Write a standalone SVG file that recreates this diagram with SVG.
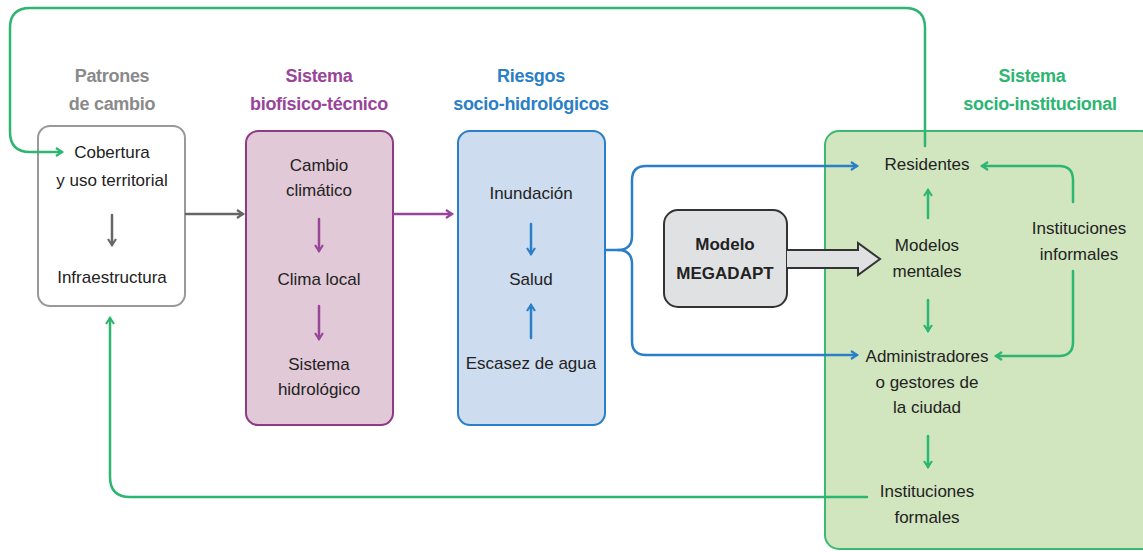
<svg xmlns="http://www.w3.org/2000/svg" width="1143" height="552" viewBox="0 0 1143 552">
<defs>
<style>
text{font-family:"Liberation Sans Narrow","Liberation Sans",Arial,sans-serif;font-size:17px;fill:#222;text-anchor:middle}
.t{font-weight:bold;font-size:18px;letter-spacing:-0.3px}
.b{font-weight:bold;font-size:17px}
.c{fill:none;stroke-width:2.5;stroke-linecap:round;stroke-linejoin:round}
.g{stroke:#2db572}.bl{stroke:#2a7fc6}.p{stroke:#98459a}.gr{stroke:#666}
</style>
<marker id="ag" viewBox="0 0 10 10" refX="8" refY="5" markerWidth="4" markerHeight="4" orient="auto" markerUnits="strokeWidth"><path d="M2,1 L8,5 L2,9" fill="none" stroke="#2db572" stroke-width="2.2"/></marker>
<marker id="ab" viewBox="0 0 10 10" refX="8" refY="5" markerWidth="4" markerHeight="4" orient="auto" markerUnits="strokeWidth"><path d="M2,1 L8,5 L2,9" fill="none" stroke="#2a7fc6" stroke-width="2.2"/></marker>
<marker id="ap" viewBox="0 0 10 10" refX="8" refY="5" markerWidth="4" markerHeight="4" orient="auto" markerUnits="strokeWidth"><path d="M2,1 L8,5 L2,9" fill="none" stroke="#98459a" stroke-width="2.2"/></marker>
<marker id="agr" viewBox="0 0 10 10" refX="8" refY="5" markerWidth="4" markerHeight="4" orient="auto" markerUnits="strokeWidth"><path d="M2,1 L8,5 L2,9" fill="none" stroke="#666" stroke-width="2.2"/></marker>
</defs>
<rect width="1143" height="552" fill="#fff"/>

<g id="socio-institucional">
<rect x="825" y="131" width="330" height="418" rx="14" fill="#d1e6bf" stroke="#3db873" stroke-width="2"/>
<text class="t" x="1032" y="82" style="fill:#2db572">Sistema</text>
<text class="t" x="1040" y="110" style="fill:#2db572">socio-institucional</text>
<text x="927" y="170">Residentes</text>
<text x="927" y="251">Modelos</text>
<text x="927" y="277">mentales</text>
<text x="927" y="362">Administradores</text>
<text x="927" y="388">o gestores de</text>
<text x="927" y="413">la ciudad</text>
<text x="927" y="497">Instituciones</text>
<text x="927" y="523">formales</text>
<text x="1079" y="234">Instituciones</text>
<text x="1079" y="260">informales</text>
</g>

<g id="patrones">
<rect x="38" y="126" width="147" height="180" rx="12" fill="#fff" stroke="#999" stroke-width="2"/>
<text class="t" x="112" y="82" style="fill:#8a8a8a">Patrones</text>
<text class="t" x="112" y="110" style="fill:#8a8a8a">de cambio</text>
<text x="112" y="158">Cobertura</text>
<text x="112" y="186">y uso territorial</text>
<text x="112" y="283">Infraestructura</text>
</g>

<g id="biofisico">
<rect x="246" y="131" width="147" height="294" rx="12" fill="#e1c9d8" stroke="#8e3a84" stroke-width="2"/>
<text class="t" x="319" y="82" style="fill:#98459a">Sistema</text>
<text class="t" x="319" y="110" style="fill:#98459a">biofísico-técnico</text>
<text x="319" y="171">Cambio</text>
<text x="319" y="196">climático</text>
<text x="319" y="285">Clima local</text>
<text x="319" y="370">Sistema</text>
<text x="319" y="395">hidrológico</text>
</g>

<g id="riesgos">
<rect x="458" y="131" width="147" height="294" rx="12" fill="#cddcee" stroke="#2a7fc6" stroke-width="2"/>
<text class="t" x="531" y="82" style="fill:#2a7fc6">Riesgos</text>
<text class="t" x="531" y="110" style="fill:#2a7fc6">socio-hidrológicos</text>
<text x="531" y="199">Inundación</text>
<text x="531" y="285">Salud</text>
<text x="531" y="369">Escasez de agua</text>
</g>

<g id="megadapt">
<rect x="664" y="210" width="123" height="97" rx="14" fill="#dfe1e3" stroke="#333" stroke-width="2"/>
<text class="b" x="725" y="250">Modelo</text>
<text class="b" x="725" y="279">MEGADAPT</text>
</g>

<g id="connectors">
<path class="c g" d="M925,146 V28 Q925,8 905,8 H30 Q10,8 10,28 V132 Q10,152 30,152 H62" marker-end="url(#ag)"/>
<path class="c g" d="M867,497 H130 Q110,497 110,477 V318" marker-end="url(#ag)"/>
<path class="c gr" d="M112,215 V245" marker-end="url(#agr)"/>
<path class="c gr" d="M186,214 H243" marker-end="url(#agr)"/>
<path class="c p" d="M319,219 V251" marker-end="url(#ap)"/>
<path class="c p" d="M319,306 V339" marker-end="url(#ap)"/>
<path class="c p" d="M394,214 H452" marker-end="url(#ap)"/>
<path class="c bl" d="M531,224 V254" marker-end="url(#ab)"/>
<path class="c bl" d="M531,338 V305" marker-end="url(#ab)"/>
<path class="c bl" d="M606,250 H618 Q632,250 632,236 V180 Q632,166 646,166 H857" marker-end="url(#ab)"/>
<path class="c bl" d="M618,250 Q632,250 632,264 V341 Q632,355 646,355 H857" marker-end="url(#ab)"/>
<path d="M787,250 H858 V243 L880,259 L858,275 V268 H787" fill="#dfe1e3" stroke="#333" stroke-width="2" stroke-linejoin="miter"/>
<path class="c g" d="M928,218 V190" marker-end="url(#ag)"/>
<path class="c g" d="M928,300 V331" marker-end="url(#ag)"/>
<path class="c g" d="M928,436 V467" marker-end="url(#ag)"/>
<path class="c g" d="M1073,202 V180 Q1073,166 1059,166 H982" marker-end="url(#ag)"/>
<path class="c g" d="M1073,271 V342 Q1073,356 1059,356 H996" marker-end="url(#ag)"/>
</g>
</svg>
